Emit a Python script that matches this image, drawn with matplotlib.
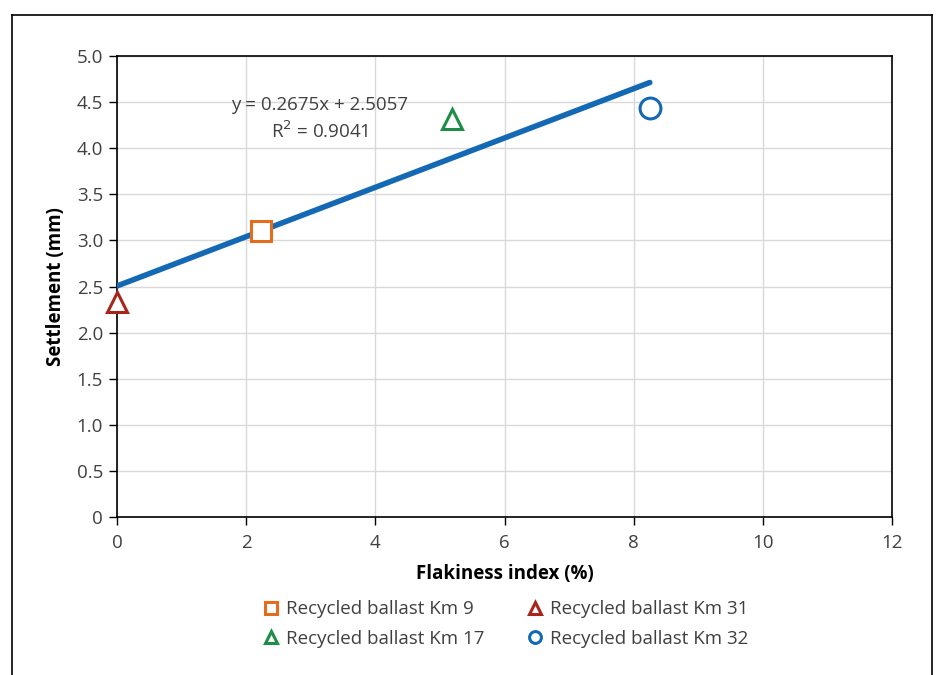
import matplotlib
matplotlib.use("Agg")
import matplotlib.pyplot as plt
from matplotlib.lines import Line2D
import numpy as np

plt.rcParams['font.family'] = ['Open Sans', 'DejaVu Sans']

labels = ["Recycled ballast Km 9", "Recycled ballast Km 31",
          "Recycled ballast Km 17", "Recycled ballast Km 32"]
x_vals = [2.23, 0.0, 5.19, 8.25]
y_vals = [3.10, 2.33, 4.32, 4.44]
markers = ["s", "^", "^", "o"]
colors = ["#E46C1C", "#A8251B", "#1E8E46", "#1469B5"]

slope = 0.2675
intercept = 2.5057
r2 = 0.9041
fit_x = [0.0, 8.25]

xticks = [0, 2, 4, 6, 8, 10, 12]
yticks = [0, 0.5, 1.0, 1.5, 2.0, 2.5, 3.0, 3.5, 4.0, 4.5, 5.0]
ytick_labels = ["0", "0.5", "1.0", "1.5", "2.0", "2.5", "3.0", "3.5", "4.0", "4.5", "5.0"]

W, H = 938, 675
fig = plt.figure(figsize=(W / 100, H / 100), dpi=100)
ax = fig.add_axes([117 / W, 1 - 517 / H, (892 - 117) / W, (517 - 56) / H])

# outer frame (open at bottom)
for xs, ys in [([12, 12], [675, 15]), ([12, 932], [15, 15]), ([932, 932], [15, 675])]:
    fig.add_artist(Line2D([v / W for v in xs], [1 - v / H for v in ys],
                          transform=fig.transFigure, color="black", lw=1.2))

ax.set_xlim(0, 12)
ax.set_ylim(0, 5)
ax.set_xticks(xticks)
ax.set_yticks(yticks)
ax.set_yticklabels(ytick_labels)
ax.grid(True, color="#D9D9D9", lw=1.0)
ax.set_axisbelow(True)
for s in ax.spines.values():
    s.set_color("black")
    s.set_linewidth(1.2)
ax.tick_params(axis="both", colors="black", labelcolor="#404040", labelsize=13.5, length=6, width=1.0)
ax.tick_params(axis="x", pad=6)
ax.tick_params(axis="y", pad=4)

fx = np.array(fit_x)
ax.plot(fx, intercept + slope * fx, color="#1469B5", lw=4, solid_capstyle="round", zorder=3)

for xv, yv, m, c, lab in zip(x_vals, y_vals, markers, colors, labels):
    ax.plot([xv], [yv], linestyle="none", marker=m, markersize=15, markerfacecolor="white",
            markeredgecolor=c, markeredgewidth=2.2, zorder=4, clip_on=False, label=lab)

ax.text(3.14, 4.47, "y = 0.2675x + 2.5057", ha="center", va="center", fontsize=13.5, color="#404040")
ax.text(3.14, 4.18, "R$^{2}$ = 0.9041", ha="center", va="center", fontsize=13.5, color="#404040")

ax.set_xlabel("Flakiness index (%)", fontsize=13.5, fontweight="bold", color="black", labelpad=9)
ax.set_ylabel("Settlement (mm)", fontsize=13.5, fontweight="bold", color="black", labelpad=8)

order = [0, 2, 1, 3]
handles = [Line2D([], [], linestyle="none", marker=markers[i], markersize=8.5, markerfacecolor="white",
                  markeredgecolor=colors[i], markeredgewidth=2.2) for i in order]
fig.legend(handles, [labels[i] for i in order], loc="center", bbox_to_anchor=(505 / W, 1 - 624 / H), ncol=2,
           frameon=False, fontsize=13.5, handletextpad=0.3, columnspacing=2.2,
           labelspacing=0.6, labelcolor="#404040", handlelength=1.0)

fig.savefig("out.png", dpi=100)
